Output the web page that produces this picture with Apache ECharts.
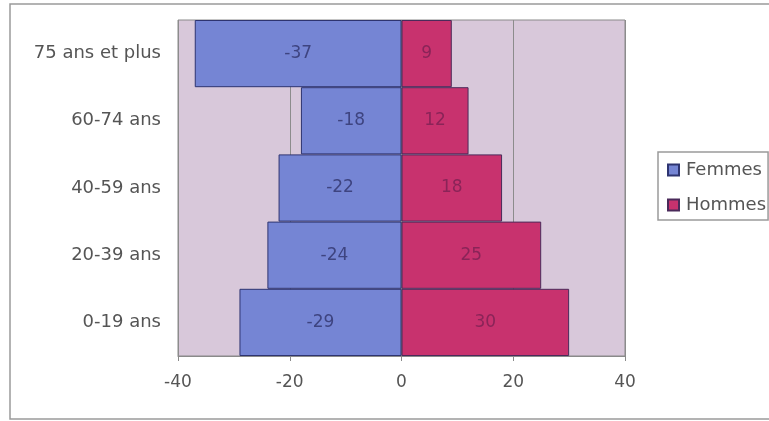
<!DOCTYPE html>
<html>
<head>
<meta charset="utf-8">
<script src="https://cdn.jsdelivr.net/npm/echarts@6/dist/echarts.min.js"></script>
<style>
  html, body { margin: 0; padding: 0; background: #ffffff; }
  #chart { width: 769px; height: 421px; }
</style>
</head>
<body>
<div id="chart"></div>
<script>
// Age groups, bottom to top
const ageGroups = ['0-19 ans', '20-39 ans', '40-59 ans', '60-74 ans', '75 ans et plus'];
// Women shown on the left (negative values), men on the right
const femmes = [-29, -24, -22, -18, -37];
const hommes = [30, 25, 18, 12, 9];
const xTicks = [-40, -20, 0, 20, 40];

const FONT = 'DejaVu Sans, Verdana, sans-serif';
const chart = echarts.init(document.getElementById('chart'), null, { renderer: 'canvas' });

function barLabel(color) {
  return {
    show: true,
    position: 'inside',
    color: color,
    fontSize: 17,
    fontFamily: FONT
  };
}

chart.setOption({
  backgroundColor: '#ffffff',
  animation: false,
  graphic: [{
    type: 'rect',
    shape: { x: 10, y: 4, width: 780, height: 415 },
    style: { fill: 'none', stroke: '#9a9a9a', lineWidth: 1.5 },
    silent: true,
    z: -1
  }],
  grid: {
    left: 178, right: 144, top: 20, bottom: 65,
    show: true,
    backgroundColor: '#d8c8da',
    borderColor: '#8a8a8a',
    borderWidth: 1
  },
  legend: {
    orient: 'vertical',
    left: 658,
    top: 152,
    itemWidth: 11,
    itemHeight: 11,
    itemGap: 17,
    padding: [9, 2, 6, 9],
    borderColor: '#9a9a9a',
    borderWidth: 1.5,
    textStyle: { color: '#555', fontSize: 18, fontFamily: FONT, padding: [0, 0, 0, 2] },
    data: [
      { name: 'Femmes', icon: 'rect' },
      { name: 'Hommes', icon: 'rect' }
    ]
  },
  xAxis: {
    type: 'value',
    min: xTicks[0],
    max: xTicks[xTicks.length - 1],
    interval: 20,
    axisLine: { show: true, lineStyle: { color: '#8a8a8a' } },
    axisTick: { show: true, length: 5, lineStyle: { color: '#8a8a8a' } },
    axisLabel: {
      color: '#555',
      fontSize: 17,
      margin: 18,
      fontFamily: FONT
    },
    splitLine: { show: true, lineStyle: { color: '#8c8c8c', width: 1 } }
  },
  yAxis: {
    type: 'category',
    data: ageGroups,
    axisLine: { show: false },
    axisTick: { show: false },
    axisLabel: {
      color: '#555',
      fontSize: 18,
      margin: 17,
      fontFamily: FONT
    }
  },
  series: [
    {
      name: 'Femmes',
      type: 'bar',
      stack: 'pyramide',
      barCategoryGap: '0%',
      data: femmes,
      itemStyle: { color: '#7585d4', borderColor: '#2e3470', borderWidth: 1 },
      label: barLabel('#3e4480')
    },
    {
      name: 'Hommes',
      type: 'bar',
      stack: 'pyramide',
      barCategoryGap: '0%',
      data: hommes,
      itemStyle: { color: '#c8326e', borderColor: '#4a2a5a', borderWidth: 1 },
      label: barLabel('#8a2458')
    }
  ]
});
</script>
</body>
</html>
